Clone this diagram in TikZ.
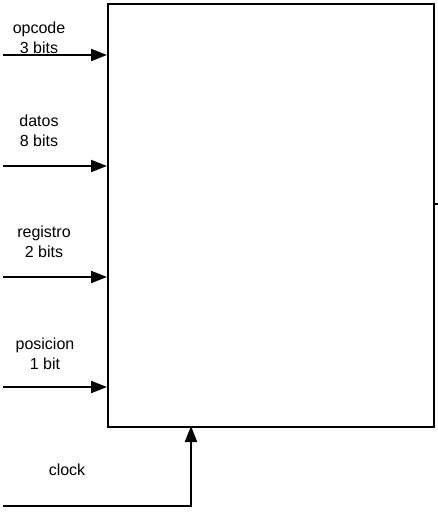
\documentclass[tikz,border=0pt]{standalone}
\usepackage{fontspec}
\setmainfont{Liberation Sans}
\usetikzlibrary{arrows.meta}
\begin{document}
\begin{tikzpicture}[x=1pt,y=-1pt,
  lbl/.style={align=center,font=\fontsize{16}{20}\selectfont,inner sep=0pt},
  wire/.style={line width=2pt,-{Triangle[length=16pt,width=12pt]}}]
\useasboundingbox (0,0) rectangle (438,513);
\node[draw,line width=2pt,minimum width=326pt,minimum height=423pt,inner sep=0pt,anchor=north west] (box) at (107,3) {};
\coordinate (o1) at (3,55);
\coordinate (o2) at (3,166);
\coordinate (o3) at (3,277);
\coordinate (o4) at (3,387);
\coordinate (ck) at (3,506);
\coordinate (stub) at (438,204);
\draw[wire] (o1) -- (o1 -| box.west);
\draw[wire] (o2) -- (o2 -| box.west);
\draw[wire] (o3) -- (o3 -| box.west);
\draw[wire] (o4) -- (o4 -| box.west);
\draw[wire] (ck) -| (191,426);
\draw[line width=1.5pt] (stub -| box.east) -- (stub);
\node[lbl] (t1) at (39,38) {opcode\\3 bits};
\node[lbl] (t2) at (39,131) {datos\\8 bits};
\node[lbl] (t3) at (44,242) {registro\\2 bits};
\node[lbl] (t4) at (45,354) {posicion\\1 bit};
\node[lbl] (t5) at (67,470) {clock};
\end{tikzpicture}
\end{document}
